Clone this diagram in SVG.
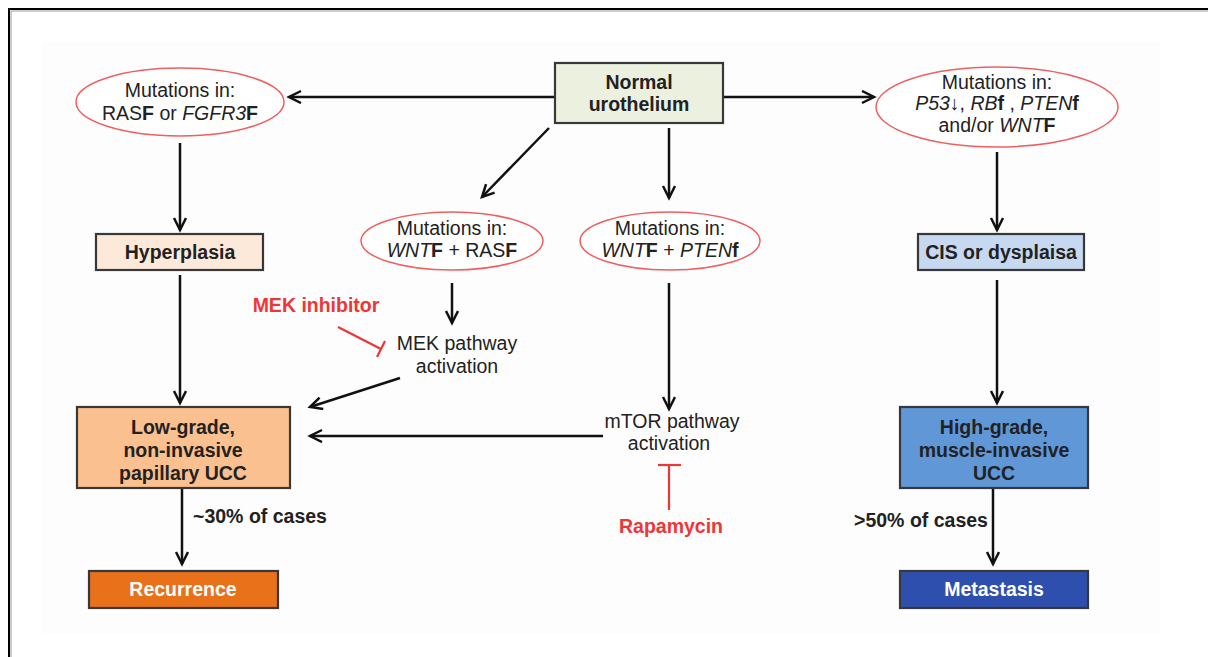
<svg xmlns="http://www.w3.org/2000/svg" width="1208" height="657" viewBox="0 0 1208 657">
  <style>
    text { font-family: "Liberation Sans", Arial, sans-serif; font-size: 19.5px; fill: #222; text-anchor: middle; }
    .b { font-weight: bold; }
    .i { font-style: italic; }
    .w { fill: #ffffff; font-weight: bold; }
    .red { fill: #ee3636; font-weight: bold; }
    .box { stroke: #383838; stroke-width: 2.2; }
    .ell { fill: #ffffff; stroke: #ee6060; stroke-width: 1.5; }
    .arr { stroke: #111; stroke-width: 2.5; fill: none; marker-end: url(#head); }
    .inh { stroke: #ee3636; stroke-width: 2.2; fill: none; }
  </style>
  <defs>
    <marker id="head" markerUnits="userSpaceOnUse" markerWidth="16" markerHeight="16" refX="13" refY="7" orient="auto">
      <path d="M1,1 L13,7 L1,13" fill="none" stroke="#111" stroke-width="2.5"/>
    </marker>
  </defs>

  <!-- page frame -->
  <rect width="1208" height="657" fill="#ffffff"/>
  <rect x="42" y="42" width="1118" height="592" fill="#fdfdfd"/>
  <path d="M9,657 L9,9 L1208,9" fill="none" stroke="#000" stroke-width="2"/>
  <path d="M11,657 L11,11 L1208,11" fill="none" stroke="#999" stroke-width="1"/>

  <!-- connectors -->
  <g id="connectors">
    <line class="arr" x1="555" y1="97" x2="289" y2="97"/>
    <line class="arr" x1="723" y1="97" x2="874" y2="97"/>
    <line class="arr" x1="549" y1="128" x2="482" y2="197"/>
    <line class="arr" x1="669" y1="128" x2="669" y2="198"/>
    <line class="arr" x1="180" y1="143" x2="180" y2="230"/>
    <line class="arr" x1="997" y1="152" x2="997" y2="230"/>
    <line class="arr" x1="180" y1="275" x2="180" y2="403"/>
    <line class="arr" x1="997" y1="280" x2="997" y2="403"/>
    <line class="arr" x1="452" y1="283" x2="452" y2="323"/>
    <line class="arr" x1="669" y1="283" x2="669" y2="409"/>
    <line class="arr" x1="400" y1="378" x2="310" y2="407"/>
    <line class="arr" x1="603" y1="436" x2="310" y2="436"/>
    <line class="arr" x1="182" y1="489" x2="182" y2="564"/>
    <line class="arr" x1="993" y1="489" x2="993" y2="564"/>
    <!-- inhibition bars -->
    <line class="inh" x1="338" y1="327" x2="381" y2="349"/>
    <line class="inh" x1="385" y1="341" x2="377" y2="357"/>
    <line class="inh" x1="669" y1="465" x2="669" y2="510"/>
    <line class="inh" x1="658" y1="465" x2="681" y2="465"/>
  </g>

  <g id="normal">
    <rect class="box" x="555" y="63" width="168" height="60" fill="#ebf1de"/>
    <text class="b" x="639" y="89">Normal</text>
    <text class="b" x="639" y="111">urothelium</text>
  </g>

  <g id="mut-ras-fgfr3">
    <ellipse class="ell" cx="180" cy="102" rx="104" ry="34"/>
    <text x="180" y="97">Mutations in:</text>
    <text x="180" y="120">RAS<tspan class="b">F</tspan> or <tspan class="i">FGFR3</tspan><tspan class="b">F</tspan></text>
  </g>

  <g id="mut-p53">
    <ellipse class="ell" cx="997" cy="107" rx="121" ry="40"/>
    <text x="997" y="89">Mutations in:</text>
    <text x="997" y="110"><tspan class="i">P53</tspan><tspan class="b">↓</tspan>, <tspan class="i">RB</tspan><tspan class="b">f</tspan> , <tspan class="i">PTEN</tspan><tspan class="b">f</tspan></text>
    <text x="997" y="132">and/or <tspan class="i">WNT</tspan><tspan class="b">F</tspan></text>
  </g>

  <g id="mut-wnt-ras">
    <ellipse class="ell" cx="452" cy="241" rx="91" ry="29"/>
    <text x="452" y="235">Mutations in:</text>
    <text x="452" y="257"><tspan class="i">WNT</tspan><tspan class="b">F</tspan> + RAS<tspan class="b">F</tspan></text>
  </g>

  <g id="mut-wnt-pten">
    <ellipse class="ell" cx="670" cy="241" rx="90" ry="29"/>
    <text x="670" y="235">Mutations in:</text>
    <text x="670" y="257"><tspan class="i">WNT</tspan><tspan class="b">F</tspan> + <tspan class="i">PTEN</tspan><tspan class="b">f</tspan></text>
  </g>

  <g id="hyperplasia">
    <rect class="box" x="96" y="234" width="167" height="36" fill="#fde9d9"/>
    <text class="b" x="180" y="259">Hyperplasia</text>
  </g>

  <g id="cis">
    <rect class="box" x="918" y="234" width="166" height="36" fill="#c6d9f1"/>
    <text class="b" x="1001" y="259">CIS or dysplaisa</text>
  </g>

  <g id="mek-inhibitor">
    <text class="red" x="316" y="312">MEK inhibitor</text>
  </g>

  <g id="mek-activation">
    <text x="457" y="350">MEK pathway</text>
    <text x="457" y="373">activation</text>
  </g>

  <g id="mtor-activation">
    <text x="672" y="428">mTOR pathway</text>
    <text x="669" y="450">activation</text>
  </g>

  <g id="rapamycin">
    <text class="red" x="671" y="533">Rapamycin</text>
  </g>

  <g id="low-grade">
    <rect class="box" x="77" y="407" width="213" height="81" fill="#fac090"/>
    <text class="b" x="183" y="434">Low-grade,</text>
    <text class="b" x="183" y="457">non-invasive</text>
    <text class="b" x="183" y="480">papillary UCC</text>
  </g>

  <g id="high-grade">
    <rect class="box" x="900" y="407" width="188" height="81" fill="#5f97d7"/>
    <text class="b" x="994" y="434">High-grade,</text>
    <text class="b" x="994" y="457">muscle-invasive</text>
    <text class="b" x="994" y="480">UCC</text>
  </g>

  <g id="label-30">
    <text class="b" x="260" y="523">~30% of cases</text>
  </g>

  <g id="label-50">
    <text class="b" x="921" y="527">&gt;50% of cases</text>
  </g>

  <g id="recurrence">
    <rect class="box" x="89" y="571" width="189" height="37" fill="#e8711a"/>
    <text class="w" x="183" y="596">Recurrence</text>
  </g>

  <g id="metastasis">
    <rect class="box" x="900" y="571" width="188" height="37" fill="#2f4fae"/>
    <text class="w" x="994" y="596">Metastasis</text>
  </g>
</svg>
